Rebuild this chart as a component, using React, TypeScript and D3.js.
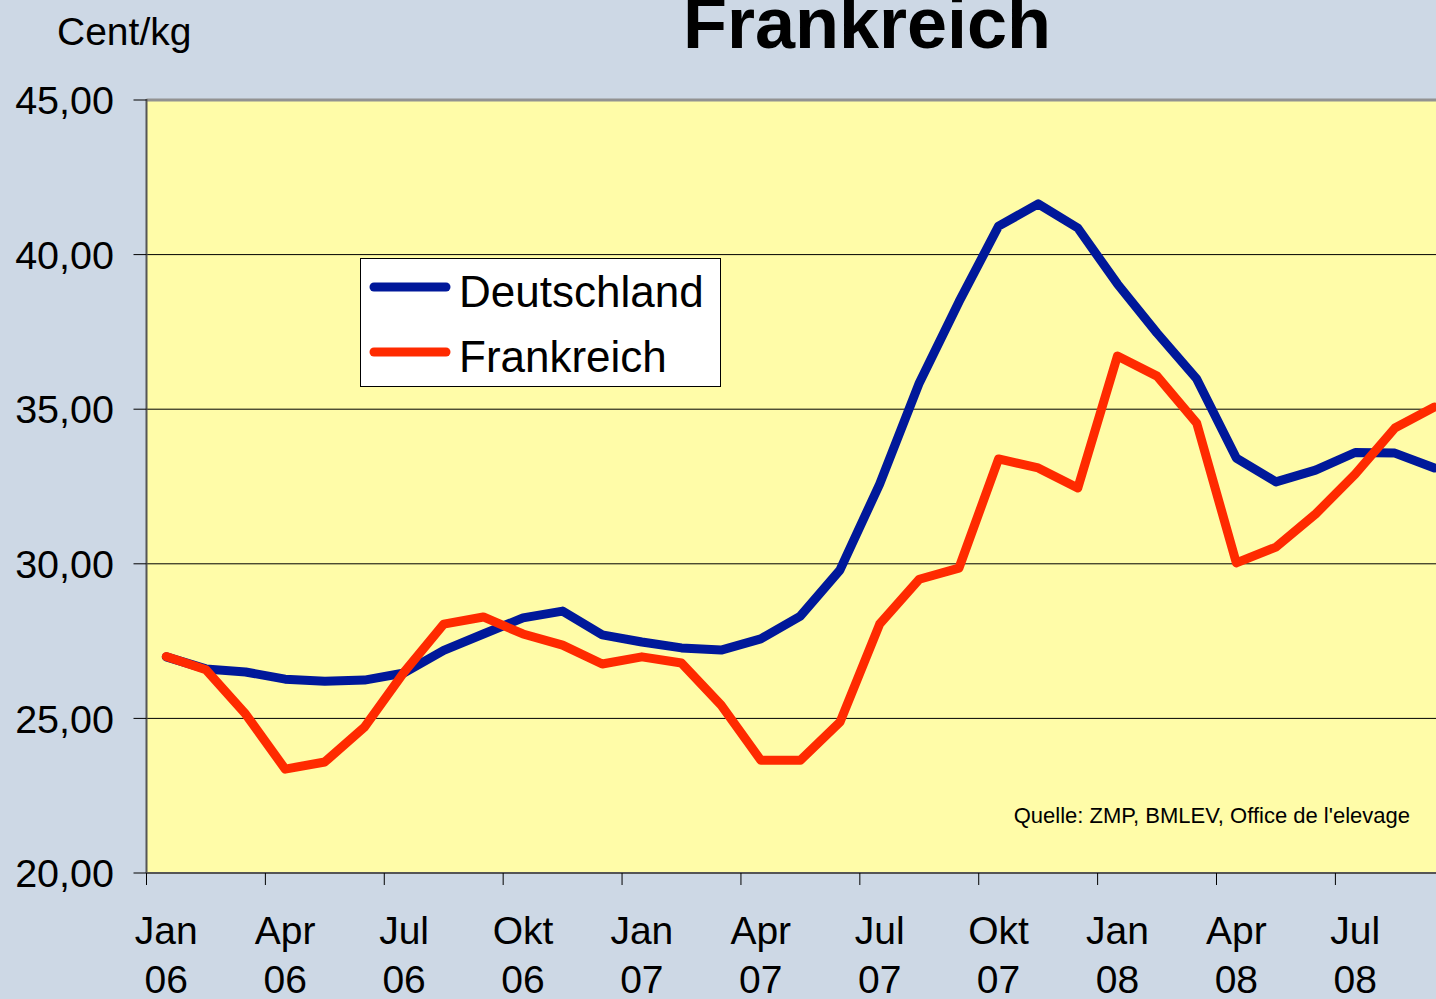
import * as React from 'react';
import * as d3 from 'd3';

const MONTHS = ['Jan', 'Feb', 'Mär', 'Apr', 'Mai', 'Jun', 'Jul', 'Aug', 'Sep', 'Okt', 'Nov', 'Dez'];
const YEARS = ['06', '07', '08'];
const categories = YEARS.flatMap(y => MONTHS.map(m => m + ' ' + y));

// Cent/kg, Jan 06 .. Sep 08
const deutschland = [
	26.99, 26.6, 26.5, 26.27, 26.2, 26.24, 26.47, 27.2, 27.73, 28.25, 28.47, 27.7,
	27.47, 27.28, 27.21, 27.57, 28.31, 29.8, 32.58, 35.85, 38.47, 40.92, 41.64, 40.86,
	39.05, 37.46, 35.98, 33.42, 32.65, 33.03, 33.6, 33.58, 33.1
];
const frankreich = [
	27.0, 26.57, 25.14, 23.36, 23.59, 24.72, 26.5, 28.05, 28.28, 27.73, 27.37, 26.76,
	26.99, 26.79, 25.43, 23.65, 23.65, 24.88, 28.05, 29.5, 29.86, 33.39, 33.1, 32.45,
	36.72, 36.07, 34.55, 30.03, 30.54, 31.61, 32.9, 34.39, 35.07
];
const yTicks = [20, 25, 30, 35, 40, 45];
const seriesNames = ['Deutschland', 'Frankreich'];
const seriesColors = ['#00189a', '#ff2a00'];

const W = 1436, H = 999;
const FONT = '"Liberation Sans", Arial, sans-serif';

const draw = (svgEl) => {
	const svg = d3.select(svgEl);
	svg.html('');

	const left = 146.5, top = 100, bottom = 873;
	const step = 39.63;

	const x = d3.scaleBand()
		.domain(categories)
		.range([left, left + step * categories.length]);
	const y = d3.scaleLinear().domain([20, 45]).range([bottom, top]);

	svg.append('rect').attr('width', W).attr('height', H).attr('fill', '#cdd8e5');

	// plot area
	svg.append('rect')
		.attr('x', left).attr('y', top)
		.attr('width', W - left + 10).attr('height', bottom - top)
		.attr('fill', '#fffca8');

	// gridlines
	svg.selectAll('.grid')
		.data(yTicks.filter(t => t > 20 && t < 45))
		.enter().append('line')
		.attr('x1', left).attr('x2', W)
		.attr('y1', d => y(d)).attr('y2', d => y(d))
		.attr('stroke', '#000').attr('stroke-width', 1);

	// top border
	svg.append('line')
		.attr('x1', left).attr('x2', W)
		.attr('y1', top).attr('y2', top)
		.attr('stroke', '#929292').attr('stroke-width', 3);

	// y axis
	svg.append('line')
		.attr('x1', left).attr('x2', left)
		.attr('y1', top - 1).attr('y2', bottom)
		.attr('stroke', '#555').attr('stroke-width', 2);
	svg.selectAll('.ytick')
		.data(yTicks)
		.enter().append('line')
		.attr('x1', left - 13).attr('x2', left)
		.attr('y1', d => y(d)).attr('y2', d => y(d))
		.attr('stroke', '#000').attr('stroke-width', 1);
	svg.selectAll('.ylab')
		.data(yTicks)
		.enter().append('text')
		.attr('x', 114).attr('y', d => y(d))
		.attr('dy', '0.36em')
		.attr('text-anchor', 'end')
		.style('font-family', FONT).style('font-size', '39.5px')
		.text(d => d3.format('.2f')(d).replace('.', ','));

	// x axis
	svg.append('line')
		.attr('x1', left).attr('x2', W)
		.attr('y1', bottom).attr('y2', bottom)
		.attr('stroke', '#555').attr('stroke-width', 2);
	const every3 = categories.filter((c, i) => i % 3 === 0);
	svg.selectAll('.xtick')
		.data(every3)
		.enter().append('line')
		.attr('x1', d => x(d)).attr('x2', d => x(d))
		.attr('y1', bottom).attr('y2', bottom + 12)
		.attr('stroke', '#000').attr('stroke-width', 1);
	const xl = svg.selectAll('.xlab')
		.data(every3)
		.enter().append('text')
		.attr('text-anchor', 'middle')
		.style('font-family', FONT).style('font-size', '39px');
	xl.append('tspan')
		.attr('x', d => x(d) + x.bandwidth() / 2).attr('y', 944)
		.text(d => d.split(' ')[0]);
	xl.append('tspan')
		.attr('x', d => x(d) + x.bandwidth() / 2).attr('y', 993)
		.text(d => d.split(' ')[1]);

	// lines
	const line = d3.line<number>()
		.x((d, i) => x(categories[i]) + x.bandwidth() / 2)
		.y(d => y(d));
	[deutschland, frankreich].forEach((s, i) => {
		svg.append('path')
			.attr('d', line(s))
			.attr('fill', 'none')
			.attr('stroke', seriesColors[i])
			.attr('stroke-width', 9)
			.attr('stroke-linejoin', 'round')
			.attr('stroke-linecap', 'round');
	});

	// legend
	const lg = svg.append('g');
	lg.append('rect')
		.attr('x', 360.5).attr('y', 258.5).attr('width', 360).attr('height', 128)
		.attr('fill', '#fff').attr('stroke', '#000').attr('stroke-width', 1);
	seriesNames.forEach((n, i) => {
		const yy = 287 + i * 65;
		lg.append('line')
			.attr('x1', 374).attr('x2', 446).attr('y1', yy).attr('y2', yy)
			.attr('stroke', seriesColors[i]).attr('stroke-width', 9)
			.attr('stroke-linecap', 'round');
		lg.append('text')
			.attr('x', 459).attr('y', yy + 20)
			.style('font-family', FONT).style('font-size', '44px')
			.text(n);
	});

	// source
	svg.append('text')
		.attr('x', 1410).attr('y', 823)
		.attr('text-anchor', 'end')
		.style('font-family', FONT).style('font-size', '22px')
		.text("Quelle: ZMP, BMLEV, Office de l'elevage");

	// unit + title
	svg.append('text')
		.attr('x', 57).attr('y', 45)
		.style('font-family', FONT).style('font-size', '39px')
		.text('Cent/kg');
	svg.append('text')
		.attr('x', 867).attr('y', 48)
		.attr('text-anchor', 'middle')
		.style('font-family', FONT).style('font-size', '72px').style('font-weight', 'bold')
		.text('Frankreich');
};

const App = () => {
	const ref = React.useRef(null);
	React.useEffect(() => {
		draw(ref.current);
	}, []);
	return (
		<svg
			ref={ref}
			width={W}
			height={H}
			style={{position: 'absolute', left: 0, top: 0, display: 'block'}}
		/>
	);
};

export default App;
